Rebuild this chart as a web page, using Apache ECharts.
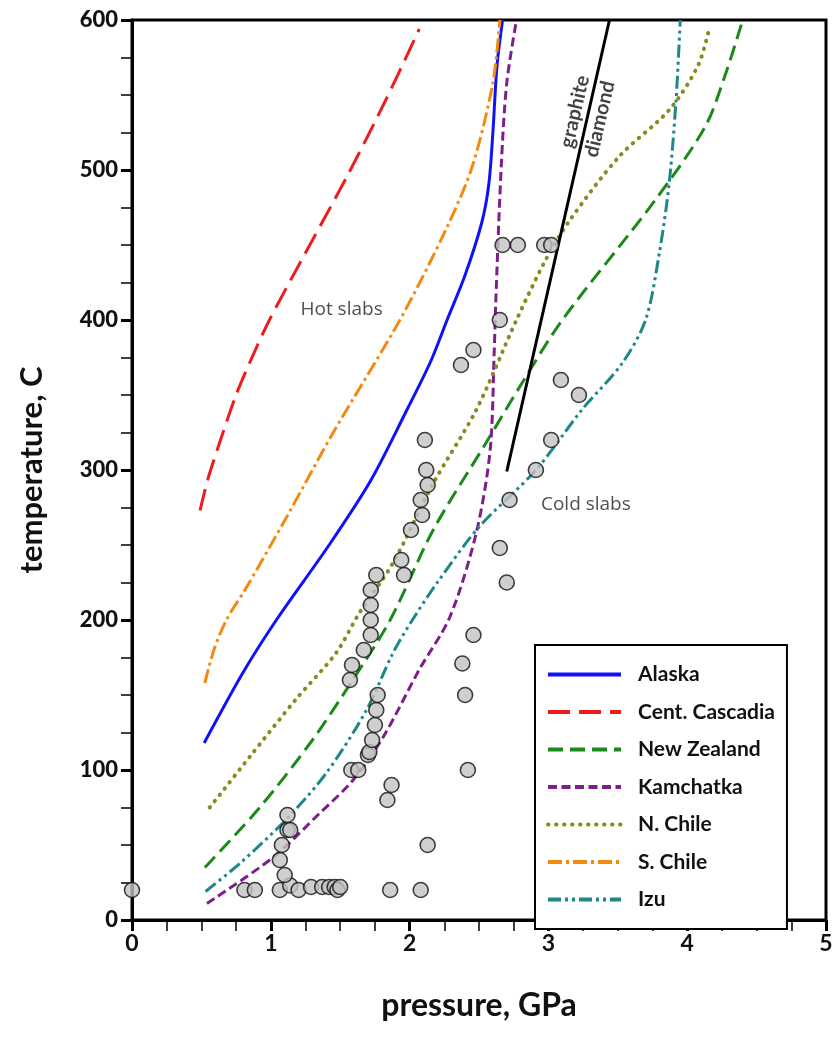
<!DOCTYPE html>
<html><head><meta charset="utf-8">
<script src="https://cdn.jsdelivr.net/npm/echarts@6/dist/echarts.min.js"></script>
<style>html,body{margin:0;padding:0;background:#fff}#c{width:836px;height:1040px}</style>
</head><body><div id="c"></div>
<script>
// pressure (GPa), temperature (C)
const alaska = [[0.52,118],[0.8,165],[1.04,200],[1.42,250],[1.72,293],[1.98,340],[2.15,372],[2.27,400],[2.4,430],[2.52,465],[2.57,490],[2.6,525],[2.63,570],[2.67,600]];
const centCascadia = [[0.49,273],[0.55,295],[0.645,322],[0.75,350],[0.85,372],[0.99,400],[1.21,438],[1.545,495],[1.83,547],[2.07,594]];
const newZealand = [[0.525,35],[0.92,75],[1.30,120],[1.59,160],[1.86,200],[2.17,260],[2.55,318],[2.81,358],[3.10,400],[3.77,480],[4.13,529],[4.28,565],[4.40,600]];
const kamchatka = [[0.54,11],[1.02,42],[1.35,71],[1.59,93],[1.81,122],[2.07,167],[2.29,202],[2.48,258],[2.58,313],[2.61,380],[2.62,410],[2.66,502],[2.70,558],[2.77,600]];
const nChile = [[0.56,75],[0.85,109],[1.18,147],[1.47,178],[1.64,205],[1.88,238],[2.17,291],[2.48,340],[2.77,400],[2.98,440],[3.15,466],[3.51,509],[3.87,540],[4.08,570],[4.16,595]];
const sChile = [[0.525,158],[0.59,180],[0.68,200],[0.82,221],[1.11,268],[1.45,325],[1.93,400],[2.26,460],[2.45,502],[2.6,558],[2.65,600]];
const izu = [[0.53,19],[0.78,38],[1.11,67],[1.40,98],[1.69,140],[1.88,178],[2.02,200],[2.2,225],[2.50,262],[2.91,300],[3.24,340],[3.53,371],[3.70,400],[3.80,445],[3.87,491],[3.92,547],[3.95,600]];
const graphiteDiamond = [[2.70,299],[3.44,600]];
const samples = [
 [0.0,20],[0.81,20],[0.885,20],[1.065,20],[1.14,23],[1.20,20],[1.29,22],[1.37,22],[1.42,22],[1.46,22],[1.48,20],[1.50,22],[1.86,20],[2.08,20],
 [1.10,30],[1.065,40],[1.08,50],[1.12,60],[1.14,60],[1.12,70],[2.13,50],
 [1.58,100],[1.63,100],[1.84,80],[1.87,90],[2.42,100],[1.70,110],[1.71,112],[1.73,120],[1.75,130],[1.76,140],[1.77,150],
 [2.40,150],[2.38,171],[2.46,190],[1.57,160],[1.585,170],[1.67,180],[1.72,190],[1.72,200],[1.72,210],[1.72,220],[1.76,230],[1.96,230],[1.94,240],
 [2.01,260],[2.09,270],[2.08,280],[2.13,290],[2.12,300],[2.11,320],[2.37,370],[2.46,380],[2.65,400],
 [2.72,280],[2.65,248],[2.70,225],[2.91,300],[3.02,320],[3.22,350],[3.09,360],
 [2.67,450],[2.78,450],[2.97,450],[3.02,450]
];
const seriesNames = ['Alaska','Cent. Cascadia','New Zealand','Kamchatka','N. Chile','S. Chile','Izu'];
const xTicks = [0,1,2,3,4,5];
const yTicks = [0,100,200,300,400,500,600];
const notes = [{name:'Hot slabs',value:[1.51,407]},{name:'Cold slabs',value:[3.27,277]}];
const gdLabels = [{name:'graphite',value:[3.19,539]},{name:'diamond',value:[3.37,534]}];

const chart = echarts.init(document.getElementById('c'), null, {renderer:'canvas'});
const lat = 'Lato';
function lineSeries(name, data, color, type, extra){
  return Object.assign({
    name, type:'line', data, symbol:'none', smooth:0.3, z:3,
    lineStyle:{color, width:3, type},
    itemStyle:{color}
  }, extra||{});
}
const option = {
  backgroundColor:'#fff',
  animation:false,
  grid:{left:132, right:10, top:20, bottom:120, containLabel:false, outerBoundsMode:'none',
        show:true, borderColor:'#000', borderWidth:3, backgroundColor:'transparent'},
  xAxis:{
    type:'value', min:0, max:5, interval:1,
    name:'pressure, GPa', nameLocation:'middle', nameGap:70,
    nameTextStyle:{fontFamily:lat, fontWeight:'bold', fontSize:32, color:'#111'},
    axisLine:{onZero:false, lineStyle:{color:'#000', width:3}},
    axisTick:{show:true, inside:false, length:11, lineStyle:{color:'#000', width:3}},
    minorTick:{show:true, splitNumber:4, length:11, lineStyle:{color:'#000', width:1.5}},
    splitLine:{show:false},
    axisLabel:{margin:12, fontFamily:lat, fontWeight:'bold', fontSize:23, color:'#111', formatter:v=>xTicks.includes(v)?String(v):''}
  },
  yAxis:{
    type:'value', min:0, max:600, interval:100,
    name:'temperature, C', nameLocation:'middle', nameGap:85, nameRotate:90,
    nameTextStyle:{fontFamily:lat, fontWeight:'bold', fontSize:31, color:'#111'},
    axisLine:{onZero:false, lineStyle:{color:'#000', width:3}},
    axisTick:{show:true, inside:false, length:11, lineStyle:{color:'#000', width:3}},
    minorTick:{show:true, splitNumber:4, length:11, lineStyle:{color:'#000', width:1.5}},
    splitLine:{show:false},
    axisLabel:{margin:14, fontFamily:lat, fontWeight:'900', fontSize:22, color:'#111', formatter:v=>yTicks.includes(v)?String(v):''}
  },
  legend:{
    orient:'vertical', left:535, top:645,
    data:seriesNames,
    backgroundColor:'#fff', borderColor:'#000', borderWidth:2,
    padding:[19,12,19,11], itemGap:16.5, itemWidth:73, itemHeight:14,
    itemStyle:{opacity:0},
    lineStyle:{width:4},
    textStyle:{fontFamily:lat, fontWeight:'bold', fontSize:21, color:'#111', padding:[0,0,0,12]},
    selectedMode:false
  },
  series:[
    lineSeries('Alaska', alaska, '#1010ff', 'solid'),
    lineSeries('Cent. Cascadia', centCascadia, '#ee1c1c', [22,9]),
    lineSeries('New Zealand', newZealand, '#1b8a1b', [15,7]),
    lineSeries('Kamchatka', kamchatka, '#7d1f8a', [9,4.5]),
    lineSeries('N. Chile', nChile, '#8a8a1e', [0.5,7.5], {lineStyle:{color:'#8a8a1e', width:4, type:[0.5,7.5], cap:'round'}}),
    lineSeries('S. Chile', sChile, '#f28a12', [14,4,3,4]),
    lineSeries('Izu', izu, '#1f8787', [13,4,3,4,3,4]),
    {name:'graphite-diamond', type:'line', data:graphiteDiamond, symbol:'none', z:3, lineStyle:{color:'#000', width:3}},
    {name:'samples', type:'scatter', data:samples, symbol:'circle', symbolSize:15, z:5,
     itemStyle:{color:'#c3c3c3', borderColor:'#111', borderWidth:1.6}},
    {name:'notes', type:'scatter', data:notes, symbolSize:0, z:6,
     label:{show:true, position:'inside', formatter:'{b}', fontFamily:'Open Sans', fontSize:19, color:'#222'}},
    {name:'gd', type:'scatter', data:gdLabels, symbolSize:0, z:6,
     label:{show:true, position:'inside', rotate:77, formatter:'{b}', fontFamily:lat, fontWeight:'bold', fontSize:20, color:'#111'}}
  ]
};
chart.setOption(option);
</script>
</body></html>
